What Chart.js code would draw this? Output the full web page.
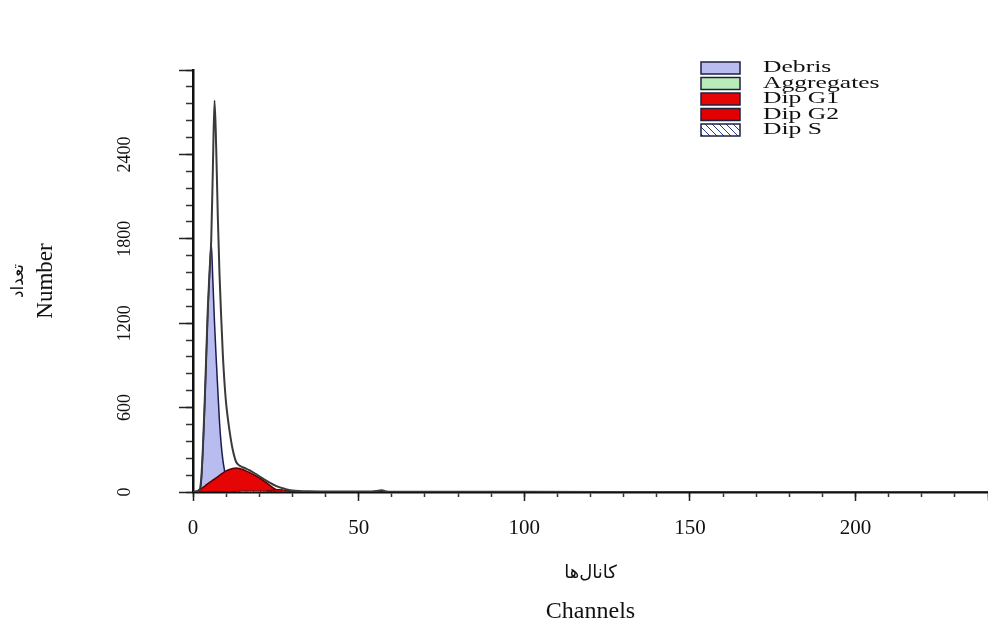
<!DOCTYPE html>
<html>
<head>
<meta charset="utf-8">
<script src="https://cdn.jsdelivr.net/npm/chart.js@4.4.1/dist/chart.umd.min.js"></script>
<style>
  body { margin: 0; background: #fff; }
</style>
</head>
<body>
<canvas id="histo" width="988" height="626"></canvas>
<script>
// channel positions (x) and the fitted curves
var channels   = [0,1,2,2.5,3,3.5,4,4.5,5,5.5,6,6.5,7,7.5,8,8.5,9,9.5,10,
                  11,12,13,14,15,16,17,18,19,20,21,22,23,24,25,26,27,28,
                  30,32,35,40,45,50,54,56,57,58,60,70,100,150,200,240];
var totalFit   = [0,3,15,100,320,620,970,1320,1570,1790,2300,2784,2450,1950,1550,1250,980,780,630,
                  440,300,215,188,176,166,155,142,128,112,97,82,68,55,44,35,27,20,
                  11,7,5,4,3,3,4,9,12,6,2,1,1,0,0,0];
var debris     = [0,0,0,80,300,600,950,1300,1550,1766,1500,1200,950,720,500,340,230,155,100,
                  45,20,8,3,0,0,0,0,0,0,0,0,0,0,0,0,0,0,
                  0,0,0,0,0,0,0,0,0,0,0,0,0,0,0,0];
var aggregates = [0,0,0,0,0,0,0,0,0,0,0,0,0,0,0,0,0,0,0,
                  0,0,0,0,0,0,0,0,0,0,0,0,0,0,0,0,0,0,
                  0,1,2,2,2,2,1,1,1,1,0,0,0,0,0,0];
var dipG1      = [0,5,18,25,32,41,50,59,68,76,85,92,100,109,118,127,135,143,150,
                  160,167,170,167,160,150,139,127,115,100,85,68,50,33,18,6,0,0,
                  0,0,0,0,0,0,0,0,0,0,0,0,0,0,0,0];
var dipG2      = [0,0,0,0,0,0,0,0,0,0,0,0,0,0,0,0,0,0,0,
                  0,0,0,0,0,0,0,0,0,0,2,5,9,13,16,17,15,11,
                  4,0,0,0,0,0,0,0,0,0,0,0,0,0,0,0];
var dipS       = [0,0,0,0,0,0,0,0,0,0,0,0,0,0,0,0,0,0,0,
                  2,3,4,5,6,6,6,6,6,6,5,5,4,4,3,2,1,0,
                  0,0,0,0,0,0,0,0,0,0,0,0,0,0,0,0];

var legendLabels = ['Debris', 'Aggregates', 'Dip G1', 'Dip G2', 'Dip S'];
var xTickLabels  = [0, 50, 100, 150, 200];
var yTickLabels  = [0, 600, 1200, 1800, 2400];

function toPoints(vals) {
  return channels.map(function(c, i) { return {x: c, y: vals[i]}; });
}

// hatch for Dip S
var hatchCanvas = document.createElement('canvas');
hatchCanvas.width = 7; hatchCanvas.height = 7;
var hctx = hatchCanvas.getContext('2d');
hctx.fillStyle = '#fff'; hctx.fillRect(0, 0, 7, 7);
hctx.strokeStyle = '#2a3a8a'; hctx.lineWidth = 1;
hctx.beginPath();
hctx.moveTo(-1, -1); hctx.lineTo(8, 8);
hctx.moveTo(-1, 6); hctx.lineTo(1, 8);
hctx.moveTo(6, -1); hctx.lineTo(8, 1);
hctx.stroke();
var hatch = hctx.createPattern(hatchCanvas, 'repeat');

const legendBox = {
  id: 'legendBox',
  afterDraw(chart) {
    const ctx = chart.ctx;
    ctx.save();
    legendLabels.forEach(function(name, i) {
      const ds = chart.data.datasets.find(d => d.label === name);
      const y = 68 + i * 15.5;
      ctx.fillStyle = ds.backgroundColor;
      ctx.fillRect(701, y - 6, 39, 12);
      ctx.lineWidth = 1.5;
      ctx.strokeStyle = '#1e2040';
      ctx.strokeRect(701, y - 6, 39, 12);
      ctx.save();
      ctx.translate(763, y);
      ctx.scale(1.6, 1);
      ctx.fillStyle = '#111';
      ctx.font = '16px "Liberation Serif"';
      ctx.textBaseline = 'middle';
      ctx.fillText(name, 0, 0);
      ctx.restore();
    });
    ctx.restore();
  }
};

var lineBase = {pointRadius: 0, cubicInterpolationMode: 'monotone', fill: 'origin'};

var config = {
  type: 'line',
  data: {
    datasets: [
      Object.assign({}, lineBase, {label: 'Fit', data: toPoints(totalFit), borderColor: '#3a3a3a', borderWidth: 2, fill: false}),
      Object.assign({}, lineBase, {label: 'Dip S', data: toPoints(dipS), backgroundColor: hatch, borderColor: '#223', borderWidth: 1}),
      Object.assign({}, lineBase, {label: 'Dip G2', data: toPoints(dipG2), backgroundColor: '#e20000', borderColor: '#6a0000', borderWidth: 1.2}),
      Object.assign({}, lineBase, {label: 'Dip G1', data: toPoints(dipG1), backgroundColor: '#e60505', borderColor: '#5a0000', borderWidth: 1.5}),
      Object.assign({}, lineBase, {label: 'Aggregates', data: toPoints(aggregates), backgroundColor: '#b8ecb8', borderColor: '#254d25', borderWidth: 1}),
      Object.assign({}, lineBase, {label: 'Debris', data: toPoints(debris), backgroundColor: '#b8bcee', borderColor: '#1c1c50', borderWidth: 1.5})
    ]
  },
  options: {
    responsive: false,
    animation: false,
    layout: {padding: {top: 70, left: 0, right: 0, bottom: 0}},
    plugins: {legend: {display: false}, tooltip: {enabled: false}},
    scales: {
      x: {
        type: 'linear', position: 'bottom', weight: 0, min: 0, max: 240,
        afterFit: function(s) { s.height = 98; s.paddingLeft = 0; s.paddingRight = 0; },
        border: {color: '#111', width: 2.5},
        grid: {drawOnChartArea: false, tickLength: 5, tickColor: '#333', tickWidth: 1.5},
        ticks: {stepSize: 10, autoSkip: false, maxRotation: 0, padding: 19, color: '#111',
                font: {family: 'Liberation Serif', size: 21},
                callback: function(v) { return xTickLabels.indexOf(v) >= 0 ? String(v) : ''; }},
        title: {display: true, text: 'کانال‌ها', color: '#111',
                font: {family: 'DejaVu Sans', size: 18}, padding: {top: 0, bottom: 6}}
      },
      x2: {
        type: 'linear', axis: 'x', position: 'bottom', weight: 1, min: 0, max: 240,
        afterFit: function(s) { s.height = 36; },
        border: {display: false}, grid: {display: false}, ticks: {display: false},
        title: {display: true, text: 'Channels', color: '#111',
                font: {family: 'Liberation Serif', size: 24}, padding: {top: 0, bottom: 0}}
      },
      xMajor: {
        type: 'linear', axis: 'x', position: {y: 0}, min: 0, max: 240,
        afterFit: function(s) { s.height = 0; },
        border: {display: false},
        grid: {drawOnChartArea: false, tickLength: 9, tickColor: '#222', tickWidth: 1.5},
        ticks: {display: false, stepSize: 50}
      },
      y: {
        type: 'linear', position: 'left', weight: 0, min: 0, max: 3000,
        afterFit: function(s) { s.width = 161; },
        border: {color: '#111', width: 2.5},
        grid: {drawOnChartArea: false, tickLength: 7, tickColor: '#333', tickWidth: 1.5},
        ticks: {stepSize: 120, autoSkip: false, minRotation: 90, maxRotation: 90,
                crossAlign: 'center', padding: 43, color: '#111',
                font: {family: 'Liberation Serif', size: 18},
                callback: function(v) { return yTickLabels.indexOf(v) >= 0 ? String(v) : ''; }},
        title: {display: true, text: 'Number', color: '#111',
                font: {family: 'Liberation Serif', size: 23}, padding: {top: 0, bottom: 0}}
      },
      y2: {
        type: 'linear', axis: 'y', position: 'left', weight: 1, min: 0, max: 3000,
        afterFit: function(s) { s.width = 32; },
        border: {display: false}, grid: {display: false}, ticks: {display: false},
        title: {display: true, text: 'تعداد', color: '#111',
                font: {family: 'DejaVu Sans', size: 17}, padding: {top: 8, bottom: 0}}
      },
      yMajor: {
        type: 'linear', axis: 'y', position: {x: 0}, min: 0, max: 3000,
        afterFit: function(s) { s.width = 0; },
        border: {display: false},
        grid: {drawOnChartArea: false, tickLength: 14, tickColor: '#222', tickWidth: 1.5},
        ticks: {display: false, stepSize: 600}
      }
    }
  },
  plugins: [legendBox]
};

window.onload = function() {
  new Chart(document.getElementById('histo').getContext('2d'), config);
};
</script>
</body>
</html>
